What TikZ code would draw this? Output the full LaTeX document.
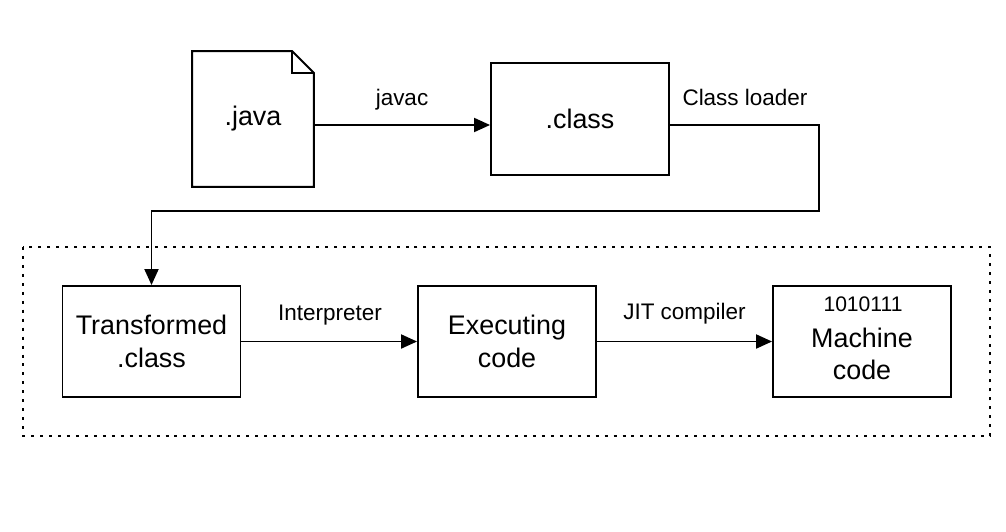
\documentclass[tikz,border=0pt]{standalone}
\usepackage{fontspec}
\setmainfont{Liberation Sans}
\usetikzlibrary{arrows.meta}

\begin{document}
\begin{tikzpicture}[x=0.02cm, y=-0.02cm, line width=1.1pt,
    stage/.style={draw, minimum width=3.56cm, minimum height=2.22cm, inner sep=0pt,
        align=center, font=\fontsize{15.3}{18.5}\selectfont},
    lbl/.style={anchor=base, font=\fontsize{12.8}{15}\selectfont},
    flow/.style={-{Triangle[length=0.32cm,width=0.28cm]}}]
    \useasboundingbox (0,0) rectangle (1006,531);
    % runtime frame
    \draw[dash pattern=on 1.7pt off 3.4pt] (23,247) rectangle (990,436);
    % source file with folded corner
    \node[minimum width=2.4cm, minimum height=2.68cm, inner sep=0pt,
        font=\fontsize{15.3}{18.5}\selectfont] (java) at (253,119) {.java};
    \draw (java.north west) -- ([xshift=-0.44cm]java.north east)
        -- ([yshift=-0.44cm]java.north east) -- (java.south east)
        -- (java.south west) -- cycle;
    \draw ([xshift=-0.44cm]java.north east) |- ([yshift=-0.44cm]java.north east);
    \node[stage, minimum height=2.24cm] (cls) at (580,119) {.class};
    \node[stage] (trans) at (151.5,341.5) {Transformed\\.class};
    \node[stage] (exec) at (507,341.5) {Executing\\code};
    \node[stage] (mach) at (862,341.5) {};
    \node[anchor=base, font=\fontsize{12}{14}\selectfont] (bits) at (863,311) {1010111};
    \node[align=center, font=\fontsize{15.3}{18.5}\selectfont] (machtext) at (862,354) {Machine\\code};
    % connectors
    \coordinate (turn) at (819,211);
    \draw[flow] ([yshift=-0.12cm]java.east) -- ([yshift=-0.12cm]cls.west);
    \draw[flow] ([yshift=-0.12cm]cls.east) -| (turn) -| (trans.north);
    \draw[flow] (trans) -- (exec);
    \draw[flow] (exec) -- (mach);
    \node[lbl] (javac) at (402,105) {javac};
    \node[lbl] (loader) at (745,105) {Class loader};
    \node[lbl] (interp) at (330,320) {Interpreter};
    \node[lbl] (jit) at (684.5,319) {JIT compiler};
\end{tikzpicture}
\end{document}
